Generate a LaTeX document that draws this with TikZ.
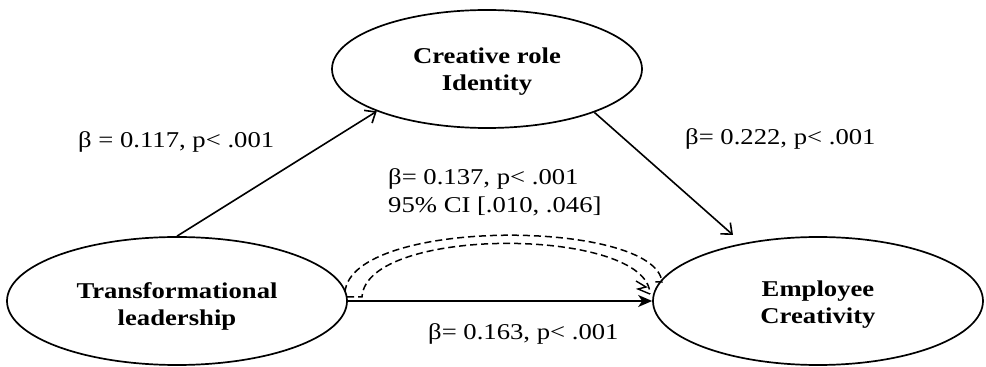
\documentclass[tikz,border=0pt]{standalone}
\usepackage{fontspec}
\setmainfont{Liberation Serif}[FakeStretch=1.18]
\usetikzlibrary{shapes.geometric,arrows.meta}

\tikzset{
  construct/.style={draw, ellipse, line width=1.7pt, inner sep=0pt},
  cname/.style={font=\fontsize{22.6}{27}\selectfont\bfseries, align=center, inner sep=0pt},
  coef/.style={font=\fontsize{22.6}{28}\selectfont, anchor=base west, inner sep=0pt},
  path/.style={line width=1.6pt, -{Straight Barb[length=9pt,width=15pt,line width=1.6pt]}},
  direct/.style={line width=1.6pt, -{Stealth[length=14pt,width=12pt,inset=4pt]}},
  indirect/.style={line width=1.5pt, dash pattern=on 7pt off 4pt},
}

\begin{document}
\begin{tikzpicture}[x=1pt,y=1pt]
\useasboundingbox (0,0) rectangle (986,367);

% constructs
\node[construct, minimum width=340pt, minimum height=128pt] (T) at (177,66) {};
\node[construct, minimum width=310pt, minimum height=118pt] (C) at (487,298) {};
\node[construct, minimum width=330pt, minimum height=128pt] (E) at (818,66) {};

\node[cname] (Tt) at ([yshift=-5pt]T.center) {Transformational\\leadership};
\node[cname] (Ct) at ([yshift=-3pt]C.center) {Creative role\\Identity};
\node[cname] (Et) at ([yshift=-4pt]E.center) {Employee\\Creativity};

% direct paths
\draw[path] (T.north) -- (C.201);
\coordinate (Ein) at (733,132);
\draw[path] (C.338) -- (Ein);
\draw[direct] (T.east) -- (E.west);

% mediated path (double dashed arc)
\coordinate (o1) at (345,75);
\coordinate (o2) at (662,85);
\coordinate (i0) at (347,70);
\coordinate (i1) at (362,70);
\coordinate (i2) at (650,73);
\draw[indirect] (o1) .. controls (352,150) and (655,148) .. (o2) -- ++(-8,0);
\draw[indirect] (i0) -- (i1) .. controls (366,142) and (648,140) .. (i2);
\draw[line width=1.4pt] (636,86) -- (646,80) -- (638,78) -- (650,73);

% coefficients
\node[coef] (b1) at (78,219) {β = 0.117, p< .001};
\node[coef] (b2) at (685,222) {β= 0.222, p< .001};
\node[coef] (b3) at (388,182) {β= 0.137, p< .001};
\node[coef] (b3ci) at (388,154) {95\% CI [.010, .046]};
\node[coef] (b4) at (428,27) {β= 0.163, p< .001};
\end{tikzpicture}
\end{document}
